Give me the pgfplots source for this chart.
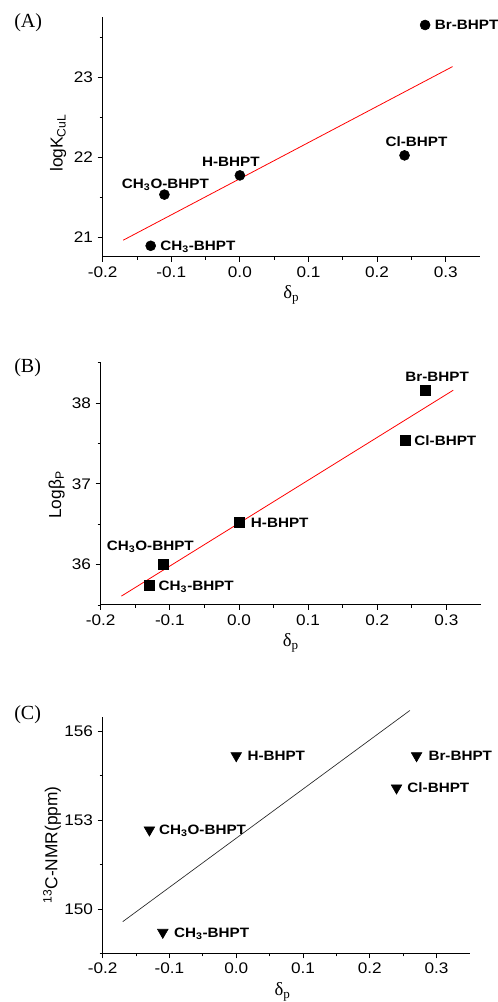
\documentclass[border=0pt]{standalone}
\usepackage{fontspec}
\setmainfont{Liberation Sans}
\newfontfamily\serif{Liberation Serif}
\newfontfamily\wide[FakeStretch=1.12]{Liberation Sans}
\usepackage{pgfplots}
\usepackage{pgfplotstable}
\pgfplotsset{compat=1.18}

\pgfplotstableread{
x y
0.27 23.65
0.24 22.02
0.00 21.77
-0.11 21.53
-0.13 20.89
}\dataA
\pgfplotstableread{
x y
0.27 38.16
0.24 37.54
0.00 36.52
-0.11 36.01
-0.13 35.74
}\dataB
\pgfplotstableread{
x y
0.00 155.18
0.27 155.18
0.24 154.09
-0.13 152.67
-0.11 149.21
}\dataC

\tikzset{lab/.style={font=\wide\bfseries\fontsize{10.2}{12}\selectfont, inner sep=0pt}}
\pgfplotsset{
 myax/.style={
  scale only axis,
  anchor=south west,
  clip=false,
  axis x line*=bottom, axis y line*=left,
  every outer x axis line/.append style={-},
  every outer y axis line/.append style={-},
  tick align=outside,
  xmin=-0.2, xmax=0.35,
  xtick={-0.2,-0.1,0,0.1,0.2,0.3},
  minor x tick num=1, minor y tick num=1,
  major tick length=3.75pt, minor tick length=2.2pt,
  tick style={black, line width=0.6pt},
  axis line style={line width=0.75pt},
  tick label style={font=\wide\fontsize{11.5}{13}\selectfont},
  /pgf/number format/assume math mode=true,
  label style={font=\fontsize{13}{15}\selectfont},
  xlabel style={at={(axis description cs:0.5,-0.158)}, anchor=center, font=\serif\fontsize{14}{16}\selectfont},
  ylabel style={anchor=center, rotate=0},
  xticklabel style={/pgf/number format/.cd, fixed, fixed zerofill, precision=1},
  yticklabel style={/pgf/number format/.cd, fixed, precision=0},
 },
}

\begin{document}
\begin{tikzpicture}
\useasboundingbox (0,0) rectangle (372.75pt,751.5pt);

% (A)
\begin{axis}[myax, at={(77pt,558.75pt)}, width=283pt, height=180pt,
  ymin=20.75, ymax=23.75, ytick distance=1,
  ylabel={logK\textsubscript{CuL}},
  ylabel style={at={(axis description cs:-0.118,0.475)}},
  xlabel={δ\textsubscript{p}}]
\addplot[only marks, mark=*, mark size=3.75pt, black] table {\dataA};
\addplot[red, line width=0.6pt] coordinates {(-0.17,20.96) (0.31,23.13)};
\node[lab, anchor=base west, xshift=7.2pt, yshift=-3.6pt] at (axis cs:0.27,23.65) {Br-BHPT};
\node[lab, anchor=base, xshift=9pt, yshift=6.5pt] at (axis cs:0.24,22.02) {Cl-BHPT};
\node[lab, anchor=base, xshift=-6.75pt, yshift=6.3pt] at (axis cs:0,21.77) {H-BHPT};
\node[lab, anchor=base, xshift=0.75pt, yshift=4.8pt] at (axis cs:-0.11,21.53) {CH\textsubscript{3}O-BHPT};
\node[lab, anchor=base west, xshift=7pt, yshift=-3.6pt] at (axis cs:-0.13,20.89) {CH\textsubscript{3}-BHPT};
\end{axis}

% (B)
\begin{axis}[myax, at={(75.5pt,297.75pt)}, width=285.2pt, height=181.7pt,
  ymin=35.5, ymax=38.5, ytick distance=1,
  ylabel={Logβ\textsubscript{P}},
  ylabel style={at={(axis description cs:-0.116,0.454)}},
  xlabel={δ\textsubscript{p}}]
\addplot[only marks, mark=square*, mark size=3.75pt, black] table {\dataB};
\addplot[red, line width=0.6pt] coordinates {(-0.17,35.61) (0.31,38.16)};
\node[lab, anchor=base, xshift=8.7pt, yshift=6.3pt] at (axis cs:0.27,38.16) {Br-BHPT};
\node[lab, anchor=base west, xshift=7pt, yshift=-3.6pt] at (axis cs:0.24,37.54) {Cl-BHPT};
\node[lab, anchor=base west, xshift=8.8pt, yshift=-3.6pt] at (axis cs:0,36.52) {H-BHPT};
\node[lab, anchor=base, xshift=-9.45pt, yshift=10pt] at (axis cs:-0.11,36.01) {CH\textsubscript{3}O-BHPT};
\node[lab, anchor=base west, xshift=7pt, yshift=-3.6pt] at (axis cs:-0.13,35.74) {CH\textsubscript{3}-BHPT};
\end{axis}

% (C)
\begin{axis}[myax, at={(77pt,36.5pt)}, width=275.5pt, height=177.5pt,
  ymin=148.5, ymax=156.5, ytick distance=3,
  ylabel={\textsuperscript{13}C-NMR(ppm)},
  ylabel style={at={(axis description cs:-0.138,0.458)}},
  xlabel={δ\textsubscript{p}},
  xlabel style={at={(axis description cs:0.49,-0.162)}}]
\addplot[only marks, mark=triangle*, mark size=4.6pt, black,
  every mark/.append style={rotate=180}] table {\dataC};
\addplot[black!85, line width=0.5pt] coordinates {(-0.17,149.57) (0.26,156.71)};
\node[lab, anchor=base west, xshift=8.25pt, yshift=-3.6pt] at (axis cs:0,155.18) {H-BHPT};
\node[lab, anchor=base west, xshift=8.8pt, yshift=-3.6pt] at (axis cs:0.27,155.18) {Br-BHPT};
\node[lab, anchor=base west, xshift=8pt, yshift=-3.6pt] at (axis cs:0.24,154.09) {Cl-BHPT};
\node[lab, anchor=base west, xshift=7pt, yshift=-3.6pt] at (axis cs:-0.13,152.67) {CH\textsubscript{3}O-BHPT};
\node[lab, anchor=base west, xshift=8.25pt, yshift=-3.6pt] at (axis cs:-0.11,149.21) {CH\textsubscript{3}-BHPT};
\end{axis}

\node[font=\serif\fontsize{15}{17}\selectfont, anchor=west, inner sep=0pt] at (10.5pt,734.2pt) {(A)};
\node[font=\serif\fontsize{15}{17}\selectfont, anchor=west, inner sep=0pt] at (10.5pt,475.5pt) {(B)};
\node[font=\serif\fontsize{15}{17}\selectfont, anchor=west, inner sep=0pt] at (10.5pt,215.25pt) {(C)};
\end{tikzpicture}
\end{document}
